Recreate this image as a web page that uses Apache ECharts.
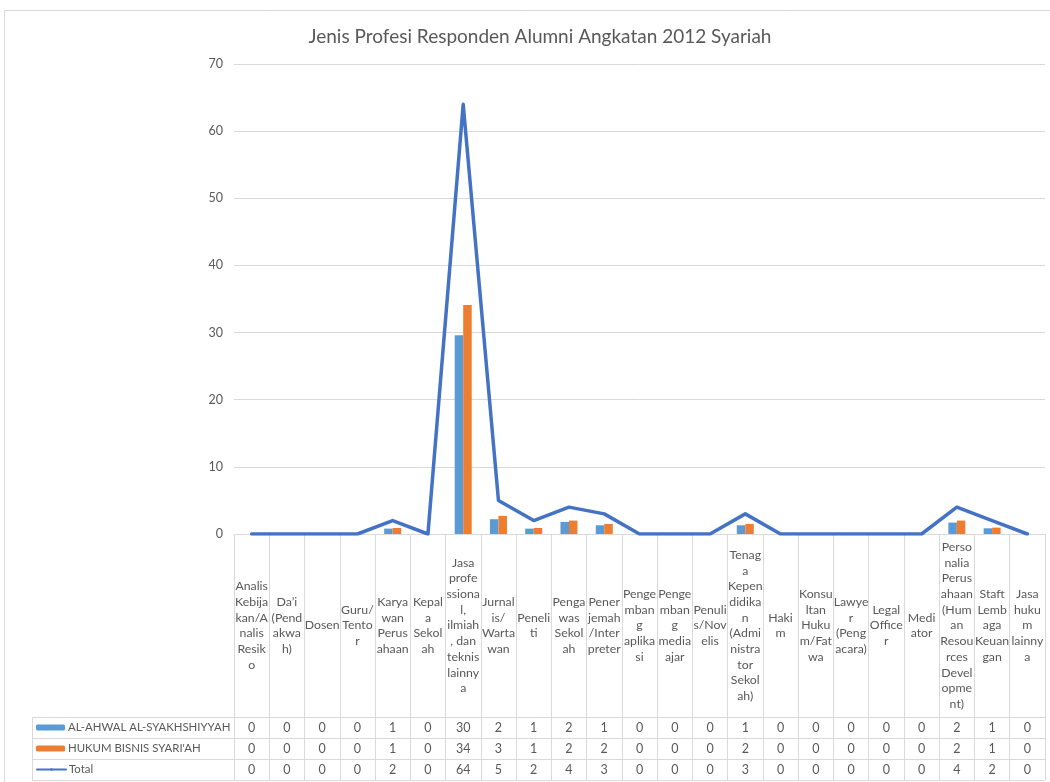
<!DOCTYPE html>
<html>
<head>
<meta charset="utf-8">
<script src="https://cdn.jsdelivr.net/npm/echarts@6/dist/echarts.min.js"></script>
<style>
html,body{margin:0;padding:0;background:#fff;}
#main{width:1050px;height:782px;}
</style>
</head>
<body>
<div id="main"></div>
<script>
// Category labels (wrapped as shown in the chart)
const categories = [
  "Analis\nKebija\nkan/A\nnalis\nResik\no",
  "Da\u2019i\n(Pend\nakwa\nh)",
  "Dosen",
  "Guru/\nTento\nr",
  "Karya\nwan\nPerus\nahaan",
  "Kepal\na\nSekol\nah",
  "Jasa\nprofe\nssiona\nl,\nilmiah\n, dan\nteknis\nlainny\na",
  "Jurnal\nis/\nWarta\nwan",
  "Peneli\nti",
  "Penga\nwas\nSekol\nah",
  "Pener\njemah\n/Inter\npreter",
  "Penge\nmban\ng\naplika\nsi",
  "Penge\nmban\ng\nmedia\najar",
  "Penuli\ns/Nov\nelis",
  "Tenag\na\nKepen\ndidika\nn\n(Admi\nnistra\ntor\nSekol\nah)",
  "Haki\nm",
  "Konsu\nltan\nHuku\nm/Fat\nwa",
  "Lawye\nr\n(Peng\nacara)",
  "Legal\nOffice\nr",
  "Medi\nator",
  "Perso\nnalia\nPerus\nahaan\n(Hum\nan\nResou\nrces\nDevel\nopme\nnt)",
  "Staft\nLemb\naga\nKeuan\ngan",
  "Jasa\nhuku\nm\nlainny\na"
];

const seriesNames = ["AL-AHWAL AL-SYAKHSHIYYAH", "HUKUM BISNIS SYARI'AH", "Total"];

// Bar heights
const alAhwal = [0,0,0,0,0.8,0,29.6,2.2,0.8,1.8,1.3,0,0,0,1.3,0,0,0,0,0,1.7,0.85,0];
const hukumBisnis = [0,0,0,0,0.9,0,34.1,2.7,0.9,2.0,1.5,0,0,0,1.5,0,0,0,0,0,2.0,0.95,0];
const total = [0,0,0,0,2,0,64,5,2,4,3,0,0,0,3,0,0,0,0,0,4,2,0];

// Values printed in the data table
const tableAlAhwal = [0,0,0,0,1,0,30,2,1,2,1,0,0,0,1,0,0,0,0,0,2,1,0];
const tableHukum = [0,0,0,0,1,0,34,3,1,2,2,0,0,0,2,0,0,0,0,0,2,1,0];
const tableTotal = [0,0,0,0,2,0,64,5,2,4,3,0,0,0,3,0,0,0,0,0,4,2,0];

const yTicks = [0,10,20,30,40,50,60,70];

const FONT = 'Lato';
const TXT = '#595959';
const GRID = '#d9d9d9';
const COLORS = ['#5B9BD5', '#ED7D31', '#4472C4'];

// layout
const gLeft = 234, gRight = 1045, gTop = 64, gBottom = 534;
const tableTop = 717, rowH = 21, tableLeft = 32, tableBottom = tableTop + 3*rowH;

const chart = echarts.init(document.getElementById('main'));

function tableAxis(values, rowIdx) {
  return {
    type: 'category',
    gridIndex: 0,
    position: 'bottom',
    data: categories,
    boundaryGap: true,
    axisLine: {show: false},
    axisTick: {show: false},
    splitLine: {show: false},
    axisLabel: {
      interval: 0,
      margin: tableTop + rowH*rowIdx + rowH/2 - gBottom,
      verticalAlign: 'middle',
      color: TXT, fontFamily: FONT, fontSize: 12.5,
      formatter: function (v, i) { return String(values[i]); }
    }
  };
}

function legendRow(name, rowIdx, h) {
  return {
    data: [name],
    left: 36,
    top: tableTop + rowH*rowIdx + rowH/2 - 7,
    itemWidth: 29,
    itemHeight: h,
    itemGap: 0,
    padding: 0,
    selectedMode: false,
    textStyle: {color: TXT, fontFamily: FONT, fontSize: 11.4, lineHeight: 14, padding: [0,0,0,-2]}
  };
}

const option = {
  backgroundColor: '#fff',
  animation: false,
  title: {
    text: 'Jenis Profesi Responden Alumni Angkatan 2012 Syariah',
    left: 535, textAlign: 'center', top: 22,
    textStyle: {fontFamily: FONT, fontSize: 19, fontWeight: 'normal', color: TXT}
  },
  legend: [
    legendRow(seriesNames[0], 0, 6),
    legendRow(seriesNames[1], 1, 6),
    legendRow(seriesNames[2], 2, 3)
  ],
  grid: {left: gLeft, right: 1050 - gRight, top: gTop, bottom: 782 - gBottom, containLabel: false},
  xAxis: [
    {
      type: 'category',
      data: categories,
      boundaryGap: true,
      axisLine: {show: true, lineStyle: {color: GRID, width: 1}},
      axisTick: {show: true, interval: 0, length: tableBottom - gBottom, lineStyle: {color: GRID}},
      axisLabel: {
        interval: 0, margin: (tableTop - gBottom)/2, verticalAlign: 'middle', align: 'center',
        color: TXT, fontFamily: FONT, fontSize: 12.3, lineHeight: 15.7
      },
      splitLine: {show: false}
    },
    tableAxis(tableAlAhwal, 0),
    tableAxis(tableHukum, 1),
    tableAxis(tableTotal, 2)
  ],
  yAxis: {
    type: 'value', min: 0, max: 70, interval: 10,
    axisLine: {show: false}, axisTick: {show: false},
    axisLabel: {color: TXT, fontFamily: FONT, fontSize: 12.5, margin: 11,
      formatter: function (v) { return yTicks.indexOf(v) >= 0 ? String(v) : ''; }},
    splitLine: {lineStyle: {color: GRID, width: 1}}
  },
  graphic: [
    {type: 'rect', shape: {x: 4.5, y: 10.5, width: 1100, height: 800}, style: {fill: 'none', stroke: GRID, lineWidth: 1}, silent: true, z: -1},
    {type: 'line', shape: {x1: tableLeft, y1: tableTop + 0.5, x2: gRight, y2: tableTop + 0.5}, style: {stroke: GRID, lineWidth: 1}},
    {type: 'line', shape: {x1: tableLeft, y1: tableTop + rowH + 0.5, x2: gRight, y2: tableTop + rowH + 0.5}, style: {stroke: GRID, lineWidth: 1}},
    {type: 'line', shape: {x1: tableLeft, y1: tableTop + 2*rowH + 0.5, x2: gRight, y2: tableTop + 2*rowH + 0.5}, style: {stroke: GRID, lineWidth: 1}},
    {type: 'line', shape: {x1: tableLeft, y1: tableBottom + 0.5, x2: gRight, y2: tableBottom + 0.5}, style: {stroke: GRID, lineWidth: 1}},
    {type: 'line', shape: {x1: tableLeft + 0.5, y1: tableTop, x2: tableLeft + 0.5, y2: tableBottom}, style: {stroke: GRID, lineWidth: 1}}
  ],
  series: [
    {name: seriesNames[0], type: 'bar', data: alAhwal, barWidth: 8.5, barGap: '0%', itemStyle: {color: COLORS[0]}},
    {name: seriesNames[1], type: 'bar', data: hukumBisnis, barWidth: 8.5, barGap: '0%', itemStyle: {color: COLORS[1]}},
    {name: seriesNames[2], type: 'line', data: total, symbol: 'none', z: 5,
      lineStyle: {color: COLORS[2], width: 3.5, join: 'round', cap: 'round'}, itemStyle: {color: COLORS[2]}}
  ]
};
chart.setOption(option);
</script>
</body>
</html>
